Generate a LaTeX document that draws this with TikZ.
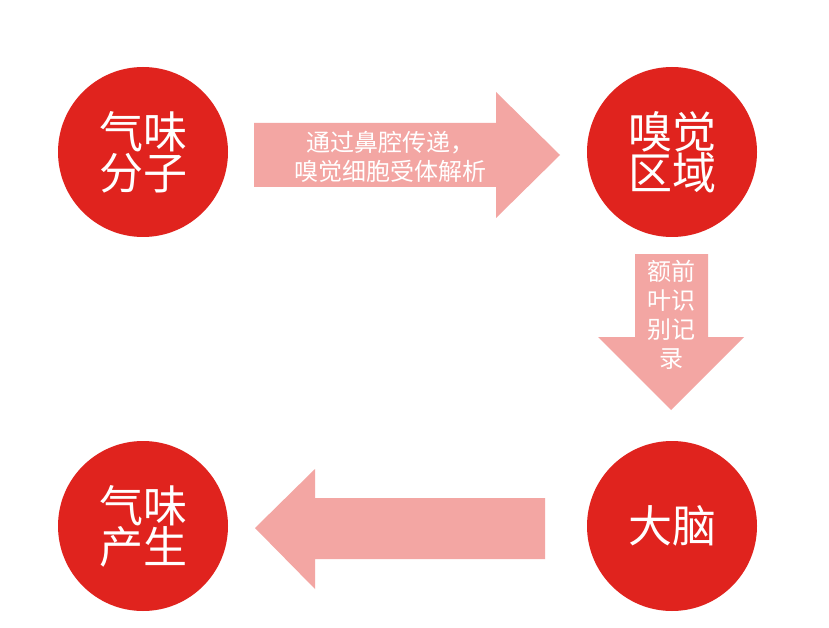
\documentclass[tikz,border=0pt]{standalone}
\usepackage{fontspec}
\setmainfont{Noto Sans CJK SC}
\usetikzlibrary{positioning}
\definecolor{stagered}{HTML}{E0231E}
\definecolor{flowpink}{HTML}{F3A6A3}
\tikzset{
  stage/.style={circle, fill=stagered, minimum size=170pt, inner sep=0pt,
    text=white, align=center, font=\fontsize{44}{41}\selectfont},
  flow/.style={fill=flowpink},
  flowtext/.style={text=white, align=center, inner sep=0pt,
    font=\fontsize{24}{29}\selectfont}
}
\begin{document}
\begin{tikzpicture}[x=1pt,y=-1pt]
        % Canvas
        \fill[white] (0,0) rectangle (829,628);
        % Stages
        \node[stage] (molecule) at (143,152) {气味\\分子};
        \node[stage] (olfactory) at (672,152) {嗅觉\\区域};
        \node[stage] (brain) at (672,526) {大脑};
        \node[stage] (smell) at (143,526) {气味\\产生};
        % Block arrows
        \fill[flow] (254,123) -- (496,123) -- (496,92) -- (560,155) -- (496,218) -- (496,187) -- (254,187) -- cycle;
        \fill[flow] (635,254) -- (708,254) -- (708,337) -- (744,337) -- (671,410) -- (598,337) -- (635,337) -- cycle;
        \fill[flow] (545,498) -- (315,498) -- (315,469) -- (255,528) -- (315,589) -- (315,559) -- (545,559) -- cycle;
        % Arrow labels
        \node[flowtext] (nasal) at (390,157) {通过鼻腔传递，\\嗅觉细胞受体解析};
        \node[flowtext] (frontal) at (671,315) {额前\\叶识\\别记\\录};
\end{tikzpicture}
\end{document}
